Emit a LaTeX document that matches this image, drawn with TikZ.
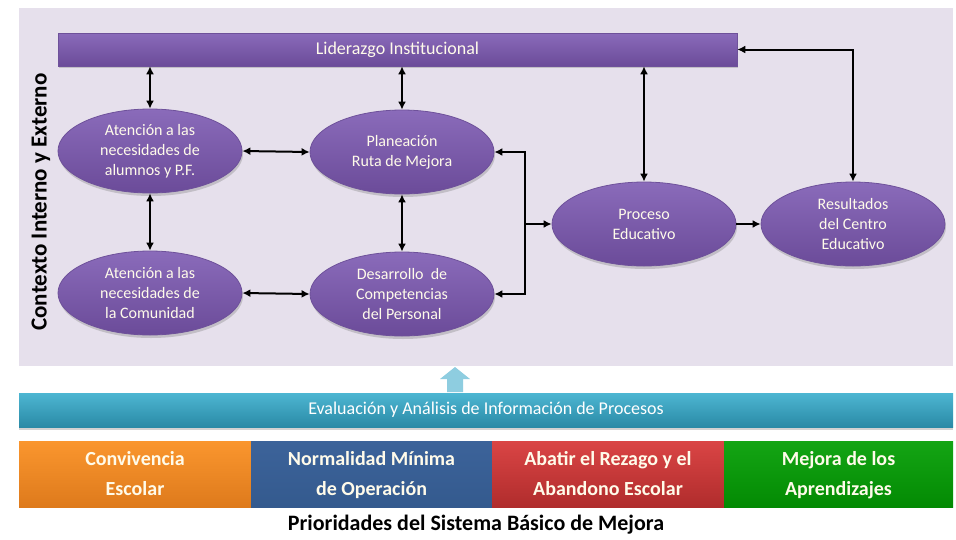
\documentclass[tikz,border=0pt]{standalone}
\usepackage{fontspec}
\setmainfont{Carlito}
\usetikzlibrary{shapes.geometric,arrows.meta,shadows,calc}
\definecolor{panel}{HTML}{E6E0EC}
\definecolor{purpTop}{HTML}{8A6BBA}
\definecolor{purpBot}{HTML}{6B4B99}
\definecolor{purpEdge}{HTML}{6E519A}
\definecolor{evTop}{HTML}{4DB6D2}
\definecolor{evBot}{HTML}{2A8AA6}
\definecolor{upArr}{HTML}{8ECDE0}
\definecolor{orTop}{HTML}{FA962E}
\definecolor{orBot}{HTML}{DE7A1C}
\definecolor{blTop}{HTML}{3C639A}
\definecolor{blBot}{HTML}{345A8E}
\definecolor{rdTop}{HTML}{DA4545}
\definecolor{rdBot}{HTML}{B02C2C}
\definecolor{grTop}{HTML}{14A514}
\definecolor{grBot}{HTML}{038A03}
\definecolor{cream}{HTML}{FFFBEA}
\tikzset{
  ell/.style={ellipse, minimum width=184pt, minimum height=84pt, inner sep=0pt,
    top color=purpTop, bottom color=purpBot, draw=purpEdge, line width=0.8pt,
    text=cream, align=center, font=\fontsize{16}{20}\selectfont,
    drop shadow={opacity=0.35, shadow xshift=1pt, shadow yshift=-3pt}},
  bar/.style={rectangle, inner sep=0pt, top color=purpTop, bottom color=purpBot,
    draw=purpEdge, line width=0.6pt, text=cream, font=\fontsize{18}{20}\selectfont,
    drop shadow={opacity=0.35, shadow xshift=1pt, shadow yshift=-2pt}},
  prio/.style={rectangle, inner sep=0pt, minimum height=66pt, text=cream,
    align=center, font=\fontsize{20}{30}\selectfont\bfseries},
  arr/.style={line width=2pt, black, {Latex[length=8pt,width=8pt]}-{Latex[length=8pt,width=8pt]}},
  arrR/.style={line width=2pt, black, -{Latex[length=8pt,width=8pt]}}
}
\begin{document}
\begin{tikzpicture}[x=1pt,y=-1pt]
\useasboundingbox (0,0) rectangle (956,539);
\fill[white] (0,0) rectangle (956,539);
% panel
\fill[panel] (19,8) rectangle (953,366);
% vertical label
\node[rotate=90, font=\fontsize{23}{26}\selectfont\bfseries] (ctx) at (41,202) {Contexto Interno y Externo};
% top bar
\node[bar, minimum width=679pt, minimum height=33pt] (lid) at (397.5,49.5) {Liderazgo Institucional};
% ellipses
\node[ell] (a1) at (150,151) {Atención a las\\necesidades de\\alumnos y P.F.};
\node[ell] (a2) at (402,152) {Planeación\\Ruta de Mejora};
\node[ell] (a3) at (150,293) {Atención a las\\necesidades de\\la Comunidad};
\node[ell] (a4) at (402,294) {Desarrollo~~de\\Competencias\\del Personal};
\node[ell] (a5) at (644,224) {Proceso\\Educativo};
\node[ell] (a6) at (853,224) {Resultados\\del Centro\\Educativo};
% connectors
\draw[arr] (lid.south -| a1.north) -- (a1.north);
\draw[arr] (lid.south -| a2.north) -- (a2.north);
\draw[arr] (lid.south -| a5.north) -- (a5.north);
\draw[arr] (lid.east) -| (a6.north);
\draw[arr] (a1.east) -- (a2.west);
\draw[arr] (a3.east) -- (a4.west);
\draw[arr] (a1.south) -- (a3.north);
\draw[arr] (a2.south) -- (a4.north);
\coordinate (jx) at (525,0);
\draw[arr] (a2.east) -- (a2.east -| jx) -- (a4.east -| jx) -- (a4.east);
\draw[arrR] (a5.west -| jx) -- (a5.west);
\draw[arrR] (a5.east) -- (a6.west);
% up arrow
\fill[upArr] (447,392) -- (447,379) -- (440,379) -- (455,367) -- (470,379) -- (463,379) -- (463,392) -- cycle;
% evaluation bar
\node[rectangle, inner sep=0pt, minimum width=934pt, minimum height=34pt,
  top color=evTop, bottom color=evBot, text=white, font=\fontsize{18}{20}\selectfont,
  drop shadow={opacity=0.35, shadow xshift=0pt, shadow yshift=-3pt}] (ev) at (486,410)
  {Evaluación y Análisis de Información de Procesos};
% priorities
\node[prio, minimum width=232pt, top color=orTop, bottom color=orBot] (p1) at (135,474) {\strut Convivencia\\\strut Escolar};
\node[prio, minimum width=241pt, top color=blTop, bottom color=blBot] (p2) at (371.5,474) {\strut Normalidad Mínima\\\strut de Operación};
\node[prio, minimum width=232pt, top color=rdTop, bottom color=rdBot] (p3) at (608,474) {\strut Abatir el Rezago y el\\\strut Abandono Escolar};
\node[prio, minimum width=229pt, top color=grTop, bottom color=grBot] (p4) at (838.5,474) {\strut Mejora de los\\\strut Aprendizajes};
% title
\node[font=\fontsize{22}{24}\selectfont\bfseries] (title) at (476,525) {Prioridades del Sistema Básico de Mejora};
\end{tikzpicture}
\end{document}
